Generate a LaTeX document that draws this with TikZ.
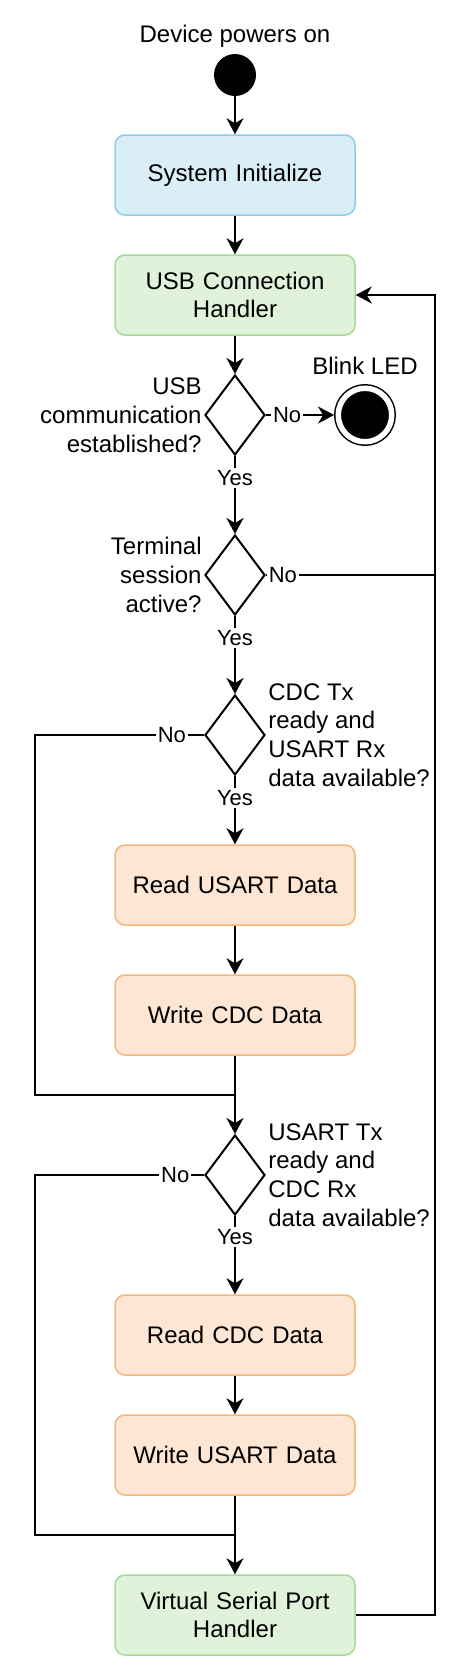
\documentclass[tikz,border=0pt]{standalone}
\usepackage{fontspec}
\setmainfont{Liberation Sans}
\usepackage{tikz}
\usetikzlibrary{shapes.geometric,arrows.meta}

\definecolor{initFill}{HTML}{DAEEF8}
\definecolor{initLine}{HTML}{8CCDEB}
\definecolor{handlerFill}{HTML}{E1F2DA}
\definecolor{handlerLine}{HTML}{A8D896}
\definecolor{taskFill}{HTML}{FDE6D3}
\definecolor{taskLine}{HTML}{F5B67A}

\begin{document}
\begin{tikzpicture}[x=0.5pt,y=-0.5pt,
    every node/.style={font=\fontsize{12}{14.4}\selectfont},
    box/.style={shape=rectangle, rounded corners=5pt, draw, line width=0.75pt, minimum width=120pt, minimum height=40pt, text width=112pt, align=center, inner sep=0pt},
    init/.style={box, fill=initFill, draw=initLine},
    handler/.style={box, fill=handlerFill, draw=handlerLine},
    task/.style={box, fill=taskFill, draw=taskLine},
    decision/.style={shape=diamond, draw, line width=1pt, minimum width=30pt, minimum height=40pt, inner sep=0pt},
    startstate/.style={shape=circle, fill=black, minimum size=21pt, inner sep=0pt},
    endstate/.style={shape=circle, draw=black, fill=black, line width=0.75pt, double=white, double distance=2.75pt, minimum size=26.75pt, inner sep=0pt, outer sep=2.1pt},
    flow/.style={line width=1pt, -{Stealth[length=8pt,width=8.5pt,inset=2.5pt]}},
    link/.style={line width=1pt},
    answer/.style={fill=white, inner sep=1pt, font=\fontsize{11}{13}\selectfont}]
    \useasboundingbox (0,0) rectangle (472,1676);

    % start and end states
    \node (powerText) at (235,36) {Device powers on};
    \node[startstate] (start) at (235,75) {};
    \node (blinkText) at (365,366) {Blink LED};
    \node[endstate] (blink) at (365,415) {};

    % main column
    \node[init] (sysInit) at (235,175) {System Initialize};
    \node[handler] (usbHandler) at (235,295) {USB Connection\\Handler};
    \node[decision] (usbCheck) at (235,415) {};
    \node[decision] (sessionCheck) at (235,575) {};
    \node[decision] (cdcTxCheck) at (235,735) {};
    \node[task] (readUsart) at (235,885) {Read USART Data};
    \node[task] (writeCdc) at (235,1015) {Write CDC Data};
    \node[decision] (usartTxCheck) at (235,1175) {};
    \node[task] (readCdc) at (235,1335) {Read CDC Data};
    \node[task] (writeUsart) at (235,1455) {Write USART Data};
    \node[handler] (vspHandler) at (235,1615) {Virtual Serial Port\\Handler};

    % decision texts
    \node[anchor=east, align=right, inner sep=1pt] (usbCheckText) at (usbCheck.west) {USB\\communication\\established?};
    \node[anchor=east, align=right, inner sep=1pt] (sessionCheckText) at (sessionCheck.west) {Terminal\\session\\active?};
    \node[anchor=west, align=left, inner sep=1pt] (cdcTxCheckText) at (cdcTxCheck.east) {CDC Tx\\ready and\\USART Rx\\data available?};
    \node[anchor=west, align=left, inner sep=1pt] (usartTxCheckText) at (usartTxCheck.east) {USART Tx\\ready and\\CDC Rx\\data available?};

    % loop rails
    \coordinate (rightRail) at (435,575);
    \coordinate (leftRailA) at (35,735);
    \coordinate (mergeA) at (235,1095);
    \coordinate (leftRailB) at (35,1175);
    \coordinate (mergeB) at (235,1535);

    \draw[flow] (start) -- (sysInit);
    \draw[flow] (sysInit) -- (usbHandler);
    \draw[flow] (usbHandler) -- (usbCheck);
    \draw[flow] (usbCheck.east) -- node[answer, pos=0.31] {No} (blink.west);
    \draw[flow] (usbCheck.south) -- node[answer, pos=0.28] {Yes} (sessionCheck.north);
    \draw[link] (sessionCheck.east) -- node[answer, pos=0.1] {No} (rightRail);
    \draw[flow] (sessionCheck.south) -- node[answer, pos=0.28] {Yes} (cdcTxCheck.north);
    \draw[link] (cdcTxCheck.west) -- node[answer, pos=0.19] {No} (leftRailA) |- (mergeA);
    \draw[flow] (cdcTxCheck.south) -- node[answer, pos=0.32] {Yes} (readUsart);
    \draw[flow] (readUsart) -- (writeCdc);
    \draw[flow] (writeCdc) -- (usartTxCheck.north);
    \draw[link] (usartTxCheck.west) -- node[answer, pos=0.17] {No} (leftRailB) |- (mergeB);
    \draw[flow] (usartTxCheck.south) -- node[answer, pos=0.27] {Yes} (readCdc);
    \draw[flow] (readCdc) -- (writeUsart);
    \draw[flow] (writeUsart) -- (vspHandler);
    \draw[flow] (vspHandler.east) -| (rightRail) |- (usbHandler.east);
\end{tikzpicture}
\end{document}
